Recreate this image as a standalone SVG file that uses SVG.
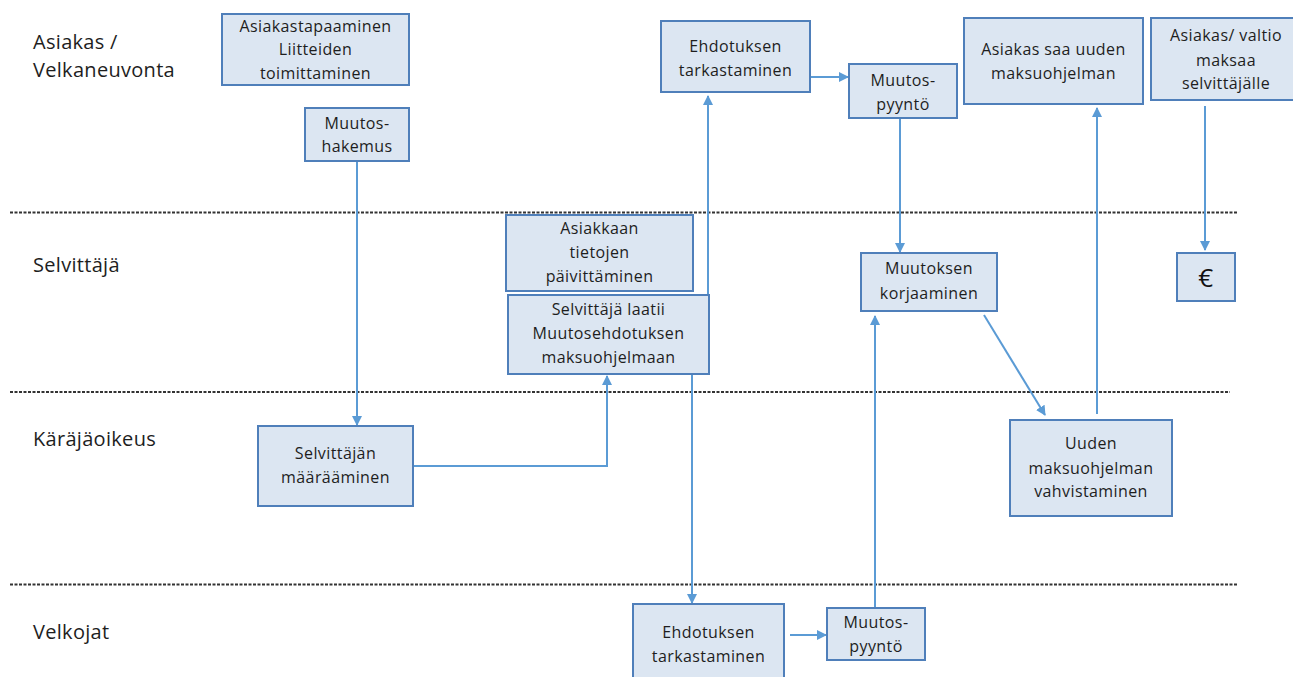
<svg xmlns="http://www.w3.org/2000/svg" width="1293" height="677" viewBox="0 0 1293 677">
  <style>
    .box { fill: #dce6f2; stroke: #4f7fba; stroke-width: 2; }
    .txt { font-family: "Open Sans", "Liberation Sans", sans-serif; font-size: 16px; letter-spacing: 0.4px; fill: #1e1e1e; text-anchor: middle; dominant-baseline: central; }
    .lane { font-family: "Open Sans", "Liberation Sans", sans-serif; font-size: 20px; letter-spacing: 0.3px; fill: #1e1e1e; }
    .sep { stroke: #333; stroke-width: 2; stroke-dasharray: 3 1.5; fill: none; }
    .conn { stroke: #5b9bd5; stroke-width: 2; fill: none; marker-end: url(#arrow); }
  </style>
  <defs>
    <marker id="arrow" viewBox="0 0 10 10" refX="9" refY="5" markerWidth="5" markerHeight="5" orient="auto" markerUnits="strokeWidth">
      <path d="M0,0 L10,5 L0,10 Z" fill="#5b9bd5"/>
    </marker>
  </defs>
  <rect width="1293" height="677" fill="#ffffff"/>

  <!-- swimlane separators and lane titles -->
  <g id="lanes">
    <line class="sep" x1="10" y1="212.5" x2="1237" y2="212.5"/>
    <line class="sep" x1="10" y1="392" x2="1230" y2="392"/>
    <line class="sep" x1="10" y1="584.5" x2="1237" y2="584.5"/>
    <text class="lane" x="33" y="49">Asiakas /</text>
    <text class="lane" x="33" y="77">Velkaneuvonta</text>
    <text class="lane" x="33" y="272">Selvittäjä</text>
    <text class="lane" x="33" y="446">Käräjäoikeus</text>
    <text class="lane" x="33" y="639">Velkojat</text>
  </g>

  <!-- connectors -->
  <g id="connectors">
    <path class="conn" d="M357,161 V425"/>
    <path class="conn" d="M413,466 H607 V376"/>
    <path class="conn" d="M708,295 V96"/>
    <path class="conn" d="M692,374 V603"/>
    <path class="conn" d="M810,77 H848"/>
    <path class="conn" d="M900,118 V252"/>
    <path class="conn" d="M984,315 L1045,415"/>
    <path class="conn" d="M1097,414 V108"/>
    <path class="conn" d="M1205,106 V250"/>
    <path class="conn" d="M790,635 H826"/>
    <path class="conn" d="M875,608 V316"/>
  </g>

  <g id="asiakastapaaminen">
    <rect class="box" x="222" y="14" width="187" height="71"/>
    <text class="txt" x="315.5" y="26">Asiakastapaaminen</text>
    <text class="txt" x="315.5" y="49">Liitteiden</text>
    <text class="txt" x="315.5" y="73">toimittaminen</text>
  </g>

  <g id="muutoshakemus">
    <rect class="box" x="305" y="108" width="104" height="53"/>
    <text class="txt" x="357" y="123">Muutos-</text>
    <text class="txt" x="357" y="146">hakemus</text>
  </g>

  <g id="ehdotus-yla">
    <rect class="box" x="661" y="21" width="149" height="71"/>
    <text class="txt" x="735.5" y="46">Ehdotuksen</text>
    <text class="txt" x="735.5" y="70">tarkastaminen</text>
  </g>

  <g id="muutospyynto-yla">
    <rect class="box" x="849" y="64" width="108" height="54"/>
    <text class="txt" x="903" y="80">Muutos-</text>
    <text class="txt" x="903" y="104">pyyntö</text>
  </g>

  <g id="uusi-maksuohjelma">
    <rect class="box" x="964" y="18" width="179" height="86"/>
    <text class="txt" x="1053.5" y="49">Asiakas saa uuden</text>
    <text class="txt" x="1053.5" y="73">maksuohjelman</text>
  </g>

  <g id="maksu-selvittajalle">
    <rect class="box" x="1151" y="18" width="150" height="82"/>
    <text class="txt" x="1226" y="35">Asiakas/ valtio</text>
    <text class="txt" x="1226" y="60">maksaa</text>
    <text class="txt" x="1226" y="83">selvittäjälle</text>
  </g>

  <g id="tietojen-paivitys">
    <rect class="box" x="506" y="215" width="187" height="76"/>
    <text class="txt" x="599.5" y="228">Asiakkaan</text>
    <text class="txt" x="599.5" y="252">tietojen</text>
    <text class="txt" x="599.5" y="276">päivittäminen</text>
  </g>

  <g id="muutosehdotus">
    <rect class="box" x="508" y="295" width="201" height="79"/>
    <text class="txt" x="608.5" y="309">Selvittäjä laatii</text>
    <text class="txt" x="608.5" y="333">Muutosehdotuksen</text>
    <text class="txt" x="608.5" y="357">maksuohjelmaan</text>
  </g>

  <g id="korjaaminen">
    <rect class="box" x="861" y="253" width="136" height="58"/>
    <text class="txt" x="929" y="268">Muutoksen</text>
    <text class="txt" x="929" y="293">korjaaminen</text>
  </g>

  <g id="euro">
    <rect class="box" x="1177" y="253" width="58" height="48"/>
    <text class="txt" x="1206" y="277" style="font-size:26px;fill:#111">€</text>
  </g>

  <g id="selvittajan-maaraaminen">
    <rect class="box" x="258" y="426" width="155" height="80"/>
    <text class="txt" x="335.5" y="453">Selvittäjän</text>
    <text class="txt" x="335.5" y="477">määrääminen</text>
  </g>

  <g id="vahvistaminen">
    <rect class="box" x="1010" y="420" width="162" height="96"/>
    <text class="txt" x="1091" y="443">Uuden</text>
    <text class="txt" x="1091" y="468">maksuohjelman</text>
    <text class="txt" x="1091" y="491">vahvistaminen</text>
  </g>

  <g id="ehdotus-ala">
    <rect class="box" x="633" y="604" width="151" height="80"/>
    <text class="txt" x="708.5" y="632">Ehdotuksen</text>
    <text class="txt" x="708.5" y="656">tarkastaminen</text>
  </g>

  <g id="muutospyynto-ala">
    <rect class="box" x="827" y="608" width="98" height="52"/>
    <text class="txt" x="876" y="622">Muutos-</text>
    <text class="txt" x="876" y="646">pyyntö</text>
  </g>
</svg>
